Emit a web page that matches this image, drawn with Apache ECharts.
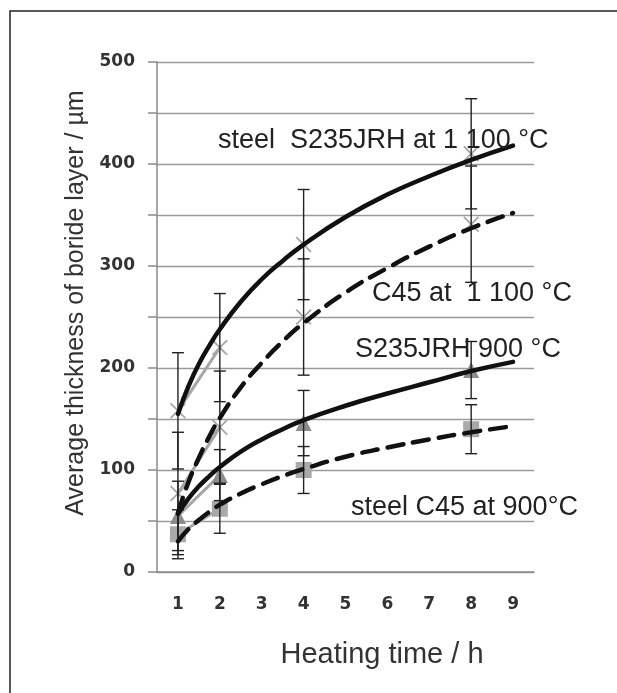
<!DOCTYPE html>
<html>
<head>
<meta charset="utf-8">
<script src="https://cdn.jsdelivr.net/npm/echarts@6/dist/echarts.min.js"></script>
<style>
  html, body { margin: 0; padding: 0; background: #fff; }
  #chart { width: 617px; height: 693px; }
</style>
</head>
<body>
<div id="chart"></div>
<script>
// heating time categories on the x axis
const hours = ['1', '2', '3', '4', '5', '6', '7', '8', '9'];
const measuredHours = [1, 2, 4, 8];

// measured layer thickness (µm) and error (+/-)
const s235At1100 = [158, 220, 321, 410];
const s235At1100Err = [57, 53, 54, 54];
const c45At1100 = [77, 142, 250, 341];
const c45At1100Err = [60, 55, 57, 57];
const s235At900 = [55, 95, 146, 198];
const s235At900Err = [34, 25, 32, 28];
const c45At900 = [37, 62, 100, 140];
const c45At900Err = [24, 24, 23, 24];

// trend curves
const curveHours = [1, 1.25, 1.5, 1.75, 2, 2.5, 3, 3.5, 4, 5, 6, 7, 8, 9];
const fitS235At1100 = [155, 182, 204, 222, 238, 265, 287, 305, 321, 348, 370, 388, 404, 418];
const fitC45At1100 = [58, 88, 112, 133, 151, 181, 205, 226, 244, 274, 298, 319, 337, 352];
const fitS235At900 = [57, 72, 84, 94, 103, 118, 130, 140, 149, 163, 175, 186, 197, 206];
const fitC45At900 = [30, 42, 51, 59, 66, 77, 86, 94, 101, 113, 122, 130, 137, 143];

const yTicks = [0, 100, 200, 300, 400, 500];

const crossSymbol = 'path://M0,0.8L0.8,0L5,4.2L9.2,0L10,0.8L5.8,5L10,9.2L9.2,10L5,5.8L0.8,10L0,9.2L4.2,5Z';

// spread measured values over the 9 categories (gaps elsewhere)
function onCategories(values) {
  const out = hours.map(() => null);
  measuredHours.forEach((h, i) => { out[h - 1] = values[i]; });
  return out;
}
function errRows(values, errs) {
  return measuredHours.map((h, i) => [h - 1, values[i] - errs[i], values[i] + errs[i]]);
}
function pairs(xs, ys) {
  return xs.map((x, i) => [x, ys[i]]);
}

function pointSeries(values, symbol, color) {
  return {
    type: 'line',
    xAxisIndex: 0,
    data: onCategories(values),
    connectNulls: false,
    symbol: symbol,
    symbolSize: 16,
    showAllSymbol: true,
    z: 2,
    lineStyle: { color: '#a6a6a6', width: 3 },
    itemStyle: { color: color },
    emphasis: { disabled: true }
  };
}

function errorSeries(values, errs) {
  return {
    type: 'custom',
    xAxisIndex: 0,
    z: 3,
    data: errRows(values, errs),
    renderItem: function (params, api) {
      const lo = api.coord([api.value(0), api.value(1)]);
      const hi = api.coord([api.value(0), api.value(2)]);
      const w = 6;
      const st = { stroke: '#222', lineWidth: 1.4 };
      return {
        type: 'group',
        children: [
          { type: 'line', shape: { x1: lo[0], y1: lo[1], x2: hi[0], y2: hi[1] }, style: st },
          { type: 'line', shape: { x1: lo[0] - w, y1: lo[1], x2: lo[0] + w, y2: lo[1] }, style: st },
          { type: 'line', shape: { x1: hi[0] - w, y1: hi[1], x2: hi[0] + w, y2: hi[1] }, style: st }
        ]
      };
    }
  };
}

function curveSeries(ys, dashed) {
  return {
    type: 'line',
    xAxisIndex: 1,
    data: pairs(curveHours, ys),
    smooth: true,
    showSymbol: false,
    z: 4,
    lineStyle: {
      color: '#111',
      width: 4.5,
      type: dashed ? [16, 10] : 'solid',
      cap: 'round'
    },
    emphasis: { disabled: true }
  };
}

const noteFont = '27px "Liberation Sans"';
const noteColor = '#222';

const chart = echarts.init(document.getElementById('chart'));
chart.setOption({
  animation: false,
  backgroundColor: '#fff',
  grid: { left: 157, top: 62, width: 377, height: 510 },
  xAxis: [
    {
      type: 'category',
      data: hours,
      boundaryGap: true,
      axisLine: { lineStyle: { color: '#8a8a8a', width: 1.5 } },
      axisTick: { length: 8, lineStyle: { color: '#8a8a8a', width: 1.5 } },
      axisLabel: {
        margin: 24,
        fontFamily: 'DejaVu Sans',
        fontWeight: 'bold',
        fontSize: 17,
        color: '#333'
      },
      splitLine: { show: false }
    },
    {
      type: 'value',
      min: 0.5,
      max: 9.5,
      show: false
    }
  ],
  yAxis: {
    type: 'value',
    min: 0,
    max: 500,
    interval: 50,
    axisLine: { show: true, lineStyle: { color: '#8a8a8a', width: 1.5 } },
    axisTick: { show: true, length: 9, lineStyle: { color: '#8a8a8a', width: 1.5 } },
    axisLabel: {
      margin: 22,
      fontFamily: 'DejaVu Sans',
      fontWeight: 'bold',
      fontSize: 17,
      color: '#333',
      formatter: v => (yTicks.indexOf(v) >= 0 ? String(v) : '')
    },
    splitLine: { lineStyle: { color: '#9a9a9a', width: 1.3 } }
  },
  graphic: [
    {
      type: 'rect',
      shape: { x: 10, y: 11, width: 700, height: 800 },
      style: { fill: 'none', stroke: '#222', lineWidth: 1.5 },
      silent: true
    },
    {
      type: 'text',
      x: 76, y: 303,
      rotation: Math.PI / 2,
      style: {
        text: 'Average thickness of boride layer / µm',
        font: '25px "Liberation Sans"',
        fill: '#333',
        textAlign: 'center',
        textVerticalAlign: 'middle'
      }
    },
    {
      type: 'text',
      x: 382, y: 655,
      style: {
        text: 'Heating time / h',
        font: '29px "Liberation Sans"',
        fill: '#333',
        textAlign: 'center',
        textVerticalAlign: 'middle'
      }
    },
    {
      type: 'text', x: 218, y: 141, z: 10,
      style: { text: 'steel  S235JRH at 1 100 °C', font: noteFont, fill: noteColor, textAlign: 'left', textVerticalAlign: 'middle' }
    },
    {
      type: 'text', x: 372, y: 294, z: 10,
      style: { text: 'C45 at  1 100 °C', font: noteFont, fill: noteColor, textAlign: 'left', textVerticalAlign: 'middle' }
    },
    {
      type: 'text', x: 355, y: 350, z: 10,
      style: { text: 'S235JRH 900 °C', font: noteFont, fill: noteColor, textAlign: 'left', textVerticalAlign: 'middle' }
    },
    {
      type: 'text', x: 351, y: 508, z: 10,
      style: { text: 'steel C45 at 900°C', font: noteFont, fill: noteColor, textAlign: 'left', textVerticalAlign: 'middle' }
    }
  ],
  series: [
    pointSeries(s235At1100, crossSymbol, '#a6a6a6'),
    pointSeries(c45At1100, crossSymbol, '#a6a6a6'),
    pointSeries(s235At900, 'triangle', '#8c8c8c'),
    pointSeries(c45At900, 'rect', '#a9a9a9'),
    errorSeries(s235At1100, s235At1100Err),
    errorSeries(c45At1100, c45At1100Err),
    errorSeries(s235At900, s235At900Err),
    errorSeries(c45At900, c45At900Err),
    curveSeries(fitS235At1100, false),
    curveSeries(fitC45At1100, true),
    curveSeries(fitS235At900, false),
    curveSeries(fitC45At900, true)
  ]
});
</script>
</body>
</html>
